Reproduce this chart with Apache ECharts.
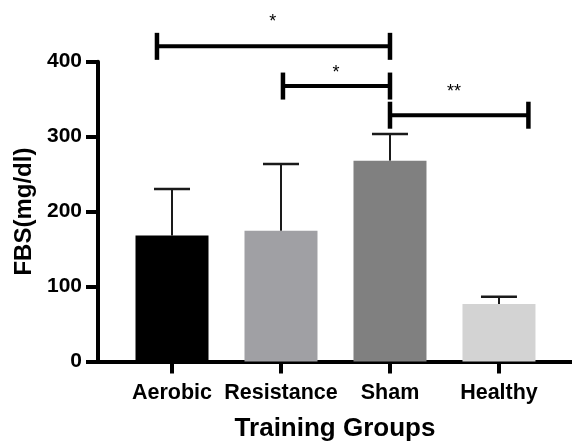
<!DOCTYPE html>
<html>
<head>
<meta charset="utf-8">
<script src="https://cdn.jsdelivr.net/npm/echarts@6/dist/echarts.min.js"></script>
<style>html,body{margin:0;padding:0;background:#fff;}#chart{width:572px;height:441px;}</style>
</head>
<body>
<div id="chart"></div>
<script>
var categories = ['Aerobic', 'Resistance', 'Sham', 'Healthy'];
var means = [168, 174.5, 268, 76.7];
var errUpper = [230, 263.5, 303.5, 86.5];
var barColors = ['#000000', '#a0a0a4', '#808080', '#d3d3d3'];
var yTicks = [0, 100, 200, 300, 400];
// significance brackets: [fromCategoryPos, toCategoryPos, yValue]
var bracketFrom = [-0.138, 1.018, 2];
var bracketTo = [2, 2, 3.27];
var bracketY = [420.5, 367.5, 328.6];
var starX = [0.924, 1.505, 2.587];
var starY = [453, 385, 359];
var starText = ['*', '*', '**'];

var FONT = '"Liberation Sans", Arial, Helvetica, sans-serif';
var chart = echarts.init(document.getElementById('chart'), null, {renderer: 'canvas'});

var barData = means.map(function (v, i) {
  return {value: [i, v], itemStyle: {color: barColors[i]}};
});
var errData = means.map(function (v, i) { return [i, v, errUpper[i]]; });
var bracketData = bracketFrom.map(function (x, i) { return [x, bracketTo[i], bracketY[i]]; });
var starData = starX.map(function (x, i) { return [x, starY[i], starText[i]]; });

chart.setOption({
  animation: false,
  backgroundColor: '#ffffff',
  grid: {left: 98, right: 0, top: 61.7, bottom: 79.5, containLabel: false, outerBoundsMode: 'none'},
  xAxis: {
    type: 'value',
    min: -0.679,
    max: 3.67,
    splitLine: {show: false},
    axisLine: {show: true, onZero: false, lineStyle: {color: '#000', width: 4}},
    axisTick: {show: true, customValues: [0, 1, 2, 3], length: 12, inside: false, lineStyle: {color: '#000', width: 4}},
    axisLabel: {
      show: true,
      customValues: [0, 1, 2, 3],
      margin: 21,
      color: '#000',
      fontFamily: FONT,
      fontWeight: 'bold',
      fontSize: 21.5,
      formatter: function (v) { return categories[Math.round(v)]; }
    },
    name: 'Training Groups',
    nameLocation: 'middle',
    nameGap: 54,
    nameTextStyle: {color: '#000', fontFamily: FONT, fontWeight: 'bold', fontSize: 26}
  },
  yAxis: {
    type: 'value',
    min: yTicks[0],
    max: yTicks[yTicks.length - 1],
    interval: 100,
    splitLine: {show: false},
    axisLine: {show: true, onZero: false, lineStyle: {color: '#000', width: 4}},
    axisTick: {show: true, length: 12, inside: false, lineStyle: {color: '#000', width: 4}},
    axisLabel: {margin: 16, color: '#000', fontFamily: FONT, fontWeight: 'bold', fontSize: 21},
    name: 'FBS(mg/dl)',
    nameLocation: 'middle',
    nameRotate: 90,
    nameGap: 60,
    nameTextStyle: {color: '#000', fontFamily: FONT, fontWeight: 'bold', fontSize: 24}
  },
  series: [
    {
      type: 'bar',
      data: barData,
      barWidth: 73,
      z: 2
    },
    {
      type: 'custom',
      data: errData,
      z: 3,
      clip: false,
      renderItem: function (params, api) {
        var x = api.value(0);
        var base = api.coord([x, api.value(1)]);
        var top = api.coord([x, api.value(2)]);
        var half = 18;
        return {
          type: 'group',
          children: [
            {type: 'line', shape: {x1: base[0], y1: base[1], x2: top[0], y2: top[1]}, style: {stroke: '#1a1a1a', lineWidth: 2}},
            {type: 'line', shape: {x1: top[0] - half, y1: top[1], x2: top[0] + half, y2: top[1]}, style: {stroke: '#1a1a1a', lineWidth: 2.5}}
          ]
        };
      }
    },
    {
      type: 'custom',
      data: bracketData,
      z: 4,
      clip: false,
      renderItem: function (params, api) {
        var a = api.coord([api.value(0), api.value(2)]);
        var b = api.coord([api.value(1), api.value(2)]);
        var h = 13.5;
        return {
          type: 'group',
          children: [
            {type: 'line', shape: {x1: a[0], y1: a[1], x2: b[0], y2: b[1]}, style: {stroke: '#000', lineWidth: 4}},
            {type: 'line', shape: {x1: a[0], y1: a[1] - h, x2: a[0], y2: a[1] + h}, style: {stroke: '#000', lineWidth: 4.5}},
            {type: 'line', shape: {x1: b[0], y1: b[1] - h, x2: b[0], y2: b[1] + h}, style: {stroke: '#000', lineWidth: 4.5}}
          ]
        };
      }
    },
    {
      type: 'custom',
      data: starData,
      z: 5,
      clip: false,
      renderItem: function (params, api) {
        var p = api.coord([api.value(0), api.value(1)]);
        return {
          type: 'text',
          x: p[0],
          y: p[1],
          style: {
            text: starData[params.dataIndex][2],
            fill: '#000',
            font: '18px ' + FONT,
            align: 'center',
            verticalAlign: 'middle'
          }
        };
      }
    }
  ]
});
</script>
</body>
</html>
